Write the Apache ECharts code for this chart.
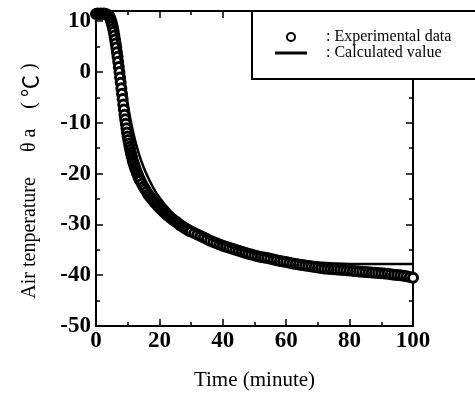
<!DOCTYPE html>
<html lang="en">
<head>
    <meta charset="UTF-8">
    <title>Air temperature</title>
    <script src="https://cdn.jsdelivr.net/npm/echarts@6/dist/echarts.min.js"></script>
</head>
<style>
    *{
        margin: 0;
        padding: 0;
    }
    html , body{
        width: 475px;
        height: 396px;
        background: #fff;
    }
    .container{
        width: 475px;
        height: 396px;
    }
</style>
<body>
<div class="container"></div>
<script>
    let expWarm = [[0,11.4],[0.5,11.5],[1,11.4],[1.5,11.5],[2,11.4],[2.5,11.5],[3,11.4],[3.5,11.3]];
    let expDrop = [[4,11.1],[4.2,10.9],[4.4,10.7],[4.6,10.4],[4.8,10.0],[5,9.6],[5.2,9.1],[5.4,8.5],[5.6,7.9],[5.8,7.2],
        [6,6.4],[6.2,5.6],[6.4,4.8],[6.6,3.9],[6.8,3.0],[7,2.0],[7.2,1.0],[7.4,0.0],[7.6,-1.1],[7.8,-2.1],
        [8,-3.2],[8.2,-4.3],[8.4,-5.3],[8.6,-6.4],[8.8,-7.4],[9,-8.4],[9.2,-9.3],[9.4,-10.2],[9.6,-11.1],[9.8,-11.9],
        [10,-12.7],[10.2,-13.4],[10.4,-14.1],[10.6,-14.7],[10.8,-15.3],[11,-15.9],[11.2,-16.4],[11.4,-16.9],[11.6,-17.4],[11.8,-17.8],
        [12,-18.2],[12.2,-18.6],[12.4,-19.0],[12.6,-19.3],[12.8,-19.7],[13,-20.0],[13.2,-20.3],[13.4,-20.6],[13.6,-20.9],[13.8,-21.2]];
    let expCool = [[14,-21.4],[14.5,-22.0],[15,-22.6],[15.5,-23.1],[16,-23.6],[16.5,-24.1],[17,-24.5],[17.5,-24.9],
        [18,-25.3],[18.5,-25.7],[19,-26.0],[19.5,-26.4],[20,-26.7],[20.5,-27.0],[21,-27.3],[21.5,-27.6],
        [22,-27.9],[22.5,-28.2],[23,-28.4],[23.5,-28.7],[24,-28.9],[24.5,-29.2],[25,-29.4],[25.5,-29.6],
        [26,-29.9],[26.5,-30.1],[27,-30.3],[27.5,-30.5],[28,-30.7],[28.5,-30.9],[29,-31.1],[29.5,-31.3],[30,-31.4]];
    let expTail = [[31,-31.7],[32,-32.0],[33,-32.3],[34,-32.6],[35,-32.9],[36,-33.2],[37,-33.45],[38,-33.7],[39,-33.95],[40,-34.2],
        [41,-34.4],[42,-34.6],[43,-34.8],[44,-35.0],[45,-35.2],[46,-35.4],[47,-35.6],[48,-35.8],[49,-35.95],[50,-36.1],
        [51,-36.25],[52,-36.4],[53,-36.5],[54,-36.6],[55,-36.75],[56,-36.9],[57,-37.05],[58,-37.2],[59,-37.3],[60,-37.4],
        [61,-37.55],[62,-37.7],[63,-37.8],[64,-37.9],[65,-38.0],[66,-38.1],[67,-38.2],[68,-38.3],[69,-38.4],[70,-38.5],
        [71,-38.6],[72,-38.7],[73,-38.75],[74,-38.8],[75,-38.85],[76,-38.9],[77,-38.95],[78,-39.0],[79,-39.05],[80,-39.1],
        [81,-39.15],[82,-39.2],[83,-39.25],[84,-39.3],[85,-39.35],[86,-39.4],[87,-39.45],[88,-39.5],[89,-39.55],[90,-39.6],
        [91,-39.65],[92,-39.7],[93,-39.8],[94,-39.9],[95,-39.95],[96,-40.0],[97,-40.1],[98,-40.2],[99,-40.35],[100,-40.5]];

    // calculated value
    let calcData = [[0,11.5],[3,11.4],[4,11.2],[5,10.3],[6,8.3],[7,5.2],[8,1.5],[9,-2.5],[10,-6.4],[11,-9.8],
        [12,-12.6],[13,-15.0],[14,-17.0],[15,-18.7],[16,-20.2],[17,-21.5],[18,-22.7],[19,-23.8],[20,-24.7],
        [21,-25.5],[22,-26.3],[23,-27.0],[24,-27.7],[25,-28.3],[26,-28.9],[28,-29.9],[30,-30.8],[35,-32.6],
        [40,-33.9],[45,-34.9],[50,-35.7],[55,-36.3],[60,-36.8],[65,-37.2],[70,-37.5],[75,-37.7],[80,-37.8],
        [90,-37.8],[100,-37.8]];

    let xTicks = [0, 100, 20];      // min, max, interval
    let yTicks = [-50, 12, 10];
    let names = ['Experimental data', 'Calculated value'];

    let container = document.querySelector('.container');
    let mycharts = echarts.init(container);

    let serif = "'Liberation Serif', 'Times New Roman', serif";
    let tickLabel = {color: '#000', fontFamily: serif, fontSize: 23, fontWeight: 'bold'};

    function frameAxis(pos, t, extra) {
        return Object.assign({
            type: 'value',
            position: pos,
            min: t[0],
            max: t[1],
            interval: t[2],
            axisLine: {show: true, onZero: false, lineStyle: {color: '#000', width: 2}},
            axisTick: {show: true, inside: true, length: 7, lineStyle: {color: '#000', width: 1.5}},
            minorTick: {show: true, splitNumber: 2, length: 4, lineStyle: {color: '#000', width: 1.5}},
            splitLine: {show: false},
            axisLabel: {show: false}
        }, extra);
    }

    let options = {
        backgroundColor: '#fff',
        animation: false,
        grid: {left: 96, right: 62, top: 11, bottom: 70},
        legend: {
            left: 252,
            top: 11,
            orient: 'vertical',
            padding: [18, 80, 18, 23],
            itemGap: 0,
            itemWidth: 32,
            itemHeight: 8,
            backgroundColor: '#fff',
            borderColor: '#000',
            borderWidth: 2,
            borderRadius: 0,
            selectedMode: false,
            formatter: ': {name}',
            textStyle: {color: '#000', fontFamily: serif, fontSize: 16, padding: [0, 0, 0, 14], lineHeight: 15},
            data: [
                {name: names[0], icon: 'circle', itemStyle: {color: '#fff', borderColor: '#000', borderWidth: 2}},
                {name: names[1], icon: 'path://M0,0H32V3H0Z', itemStyle: {color: '#000', borderWidth: 0}}
            ]
        },
        xAxis: [
            frameAxis('bottom', xTicks, {
                name: 'Time (minute)',
                nameLocation: 'middle',
                nameGap: 44,
                nameTextStyle: {color: '#000', fontFamily: serif, fontSize: 21},
                axisLabel: Object.assign({show: true, margin: 4}, tickLabel)
            }),
            frameAxis('top', xTicks, {})
        ],
        yAxis: [
            frameAxis('left', yTicks, {
                name: 'Air tenperature     θ a    ( {c|℃} )',
                nameLocation: 'middle',
                nameGap: 55,
                nameTextStyle: {
                    color: '#000', fontFamily: serif, fontSize: 20, padding: [0, 25, 0, 0],
                    rich: {c: {color: '#000', fontFamily: "'Noto Sans CJK JP'", fontSize: 22}}
                },
                axisLabel: Object.assign({
                    show: true,
                    margin: 5,
                    formatter: v => (v % 10 === 0 ? String(v) : '')
                }, tickLabel)
            }),
            frameAxis('right', yTicks, {})
        ],
        series: [
            {
                name: names[0],
                type: 'scatter',
                data: [].concat(expWarm, expDrop, expCool, expTail),
                symbol: 'circle',
                symbolSize: 9,
                clip: false,
                itemStyle: {color: '#fff', borderColor: '#000', borderWidth: 3, opacity: 1},
                z: 2
            },
            {
                name: names[1],
                type: 'line',
                data: calcData,
                smooth: 0.4,
                symbol: 'none',
                lineStyle: {color: '#000', width: 2.5},
                itemStyle: {color: '#000'},
                z: 3
            }
        ]
    };

    mycharts.setOption(options);
</script>
</body>
</html>
